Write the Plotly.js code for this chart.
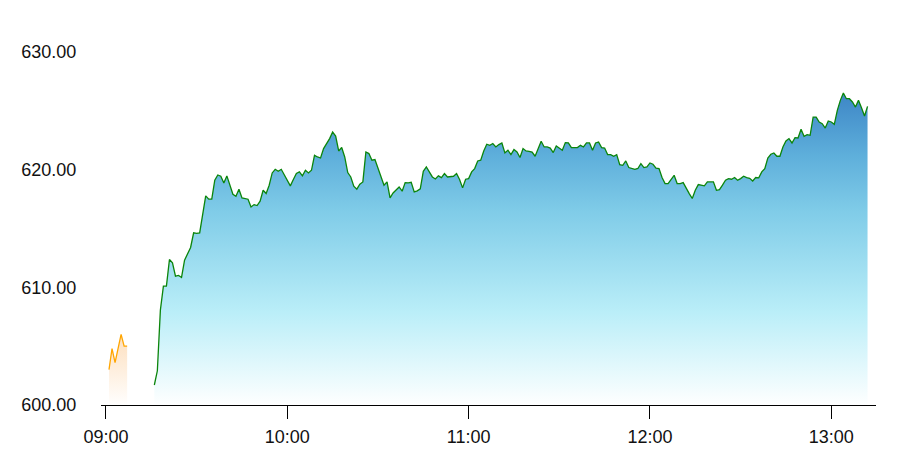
<!DOCTYPE html>
<html>
<head>
<meta charset="utf-8">
<script src="https://cdn.plot.ly/plotly-3.0.1.min.js"></script>
<style>html,body{margin:0;padding:0;background:#fff;}#chart{width:906px;height:467px;}</style>
</head>
<body>
<div id="chart"></div>
<script>
// Session date and start times (one point per minute)
const sessionDate = '2024-01-02';
const preStart = '09:01';
const mainStart = '09:16';

// Pre-market series (orange), 09:01 - 09:07
const preValues = [603.0, 604.8, 603.6, 604.8, 606.0, 605.0, 605.0];

// Main series (green), 09:16 - 13:12
const mainValues = [
  601.70, 602.91, 608.06, 610.10, 610.10, 612.37, 612.08, 610.95, 611.01, 610.84,
  612.31, 612.88, 613.39, 614.63, 614.58, 614.63, 616.41, 617.77, 617.49, 617.49,
  619.10, 619.55, 619.44, 618.87, 619.47, 618.62, 617.91, 617.74, 618.34, 617.60,
  617.55, 617.49, 616.83, 617.03, 616.95, 617.32, 618.25, 617.97, 618.68, 619.72,
  620.03, 619.86, 620.03, 619.52, 619.10, 618.62, 619.16, 619.67, 619.81, 619.47,
  619.95, 619.72, 619.95, 621.22, 621.08, 620.99, 621.79, 622.16, 622.64, 623.20,
  622.86, 621.59, 621.88, 621.08, 619.75, 619.38, 618.59, 618.34, 618.76, 618.96,
  621.50, 621.37, 620.80, 620.86, 620.09, 619.38, 618.68, 618.96, 617.60, 618.02,
  618.31, 618.53, 618.17, 618.90, 618.87, 618.93, 618.11, 618.20, 618.37, 619.86,
  620.23, 619.81, 619.38, 619.21, 619.47, 619.33, 619.67, 619.38, 619.44, 619.44,
  619.67, 619.16, 618.45, 619.19, 619.24, 619.81, 620.09, 620.74, 620.80, 621.59,
  622.16, 622.07, 622.22, 621.93, 622.13, 622.27, 621.42, 621.65, 621.28, 621.71,
  621.50, 621.03, 621.79, 621.59, 621.56, 621.50, 621.14, 621.84, 622.41, 621.93,
  621.93, 621.84, 621.45, 622.01, 621.84, 621.65, 622.30, 622.27, 621.88, 621.90,
  621.88, 622.07, 621.93, 622.27, 622.27, 621.65, 622.27, 622.35, 621.88, 621.84,
  621.28, 621.28, 621.14, 621.28, 620.43, 620.37, 620.74, 620.18, 620.09, 620.03,
  620.10, 620.52, 620.18, 620.23, 620.57, 620.46, 620.12, 620.09, 619.33, 618.82,
  618.82, 619.16, 619.52, 618.82, 618.82, 618.90, 618.39, 617.97, 617.55, 618.25,
  618.73, 618.68, 618.62, 618.96, 618.96, 618.96, 618.25, 618.31, 618.68, 619.10,
  619.24, 619.19, 619.33, 619.10, 619.24, 619.44, 619.33, 619.27, 619.04, 619.33,
  619.30, 619.81, 620.09, 620.99, 621.31, 621.42, 621.14, 621.14, 621.93, 622.44,
  622.64, 622.27, 622.72, 622.69, 623.43, 622.84, 622.98, 622.92, 624.47, 624.47,
  624.05, 623.91, 623.54, 624.14, 624.05, 623.85, 625.04, 625.89, 626.51, 626.03,
  626.03, 625.75, 625.32, 625.89, 625.27, 624.56, 625.38
];

// Axis ticks
const tickTimes = ['09:00', '10:00', '11:00', '12:00', '13:00'];
const yTicks = [600, 610, 620, 630];

function minuteSeries(start, n) {
  const base = new Date(sessionDate + 'T' + start + ':00Z').getTime();
  const out = [];
  for (let i = 0; i < n; i++) {
    const d = new Date(base + i * 60000);
    out.push(d.toISOString().slice(0, 19).replace('T', ' '));
  }
  return out;
}

const preX = minuteSeries(preStart, preValues.length);
const mainX = minuteSeries(mainStart, mainValues.length);

const traces = [
  {
    x: preX, y: preValues, type: 'scatter', mode: 'lines',
    line: {color: '#ffa500', width: 1.3},
    fill: 'tozeroy',
    fillgradient: {type: 'vertical', start: 600, stop: 606.2,
      colorscale: [[0, 'rgba(255,255,255,1)'], [1, 'rgba(253,222,188,1)']]},
    hoverinfo: 'skip'
  },
  {
    x: mainX, y: mainValues, type: 'scatter', mode: 'lines',
    line: {color: '#0b850b', width: 1.3},
    fill: 'tozeroy',
    fillgradient: {type: 'vertical', start: 600, stop: 626.6,
      colorscale: [[0, '#ffffff'], [0.3, '#baeef8'], [0.62, '#80cce8'], [0.8, '#5eafdb'], [1, '#3d86c6']]},
    hoverinfo: 'skip'
  }
];

const font = {family: 'Liberation Sans, Arial, sans-serif', size: 18, color: '#111'};

const layout = {
  width: 906, height: 467,
  margin: {l: 101, r: 30, t: 52, b: 62, pad: 0},
  paper_bgcolor: '#fff', plot_bgcolor: '#fff',
  showlegend: false,
  hovermode: false,
  font: font,
  xaxis: {
    type: 'date',
    range: [sessionDate + ' 08:58:21', sessionDate + ' 13:14:48'],
    tickvals: tickTimes.map(t => sessionDate + ' ' + t),
    ticktext: tickTimes,
    showgrid: false, zeroline: false,
    showline: true, linecolor: '#000', linewidth: 1,
    ticks: 'outside', ticklen: 13, tickwidth: 1, tickcolor: '#000',
    ticklabelstandoff: 2,
    tickfont: font
  },
  yaxis: {
    range: [600, 630],
    tickvals: yTicks,
    ticktext: yTicks.map(v => v.toFixed(2)),
    showgrid: false, zeroline: false, showline: false,
    ticks: 'outside', ticklen: 20, tickcolor: 'rgba(0,0,0,0)',
    tickfont: font
  }
};

Plotly.newPlot('chart', traces, layout, {displayModeBar: false, staticPlot: true});
</script>
</body>
</html>
